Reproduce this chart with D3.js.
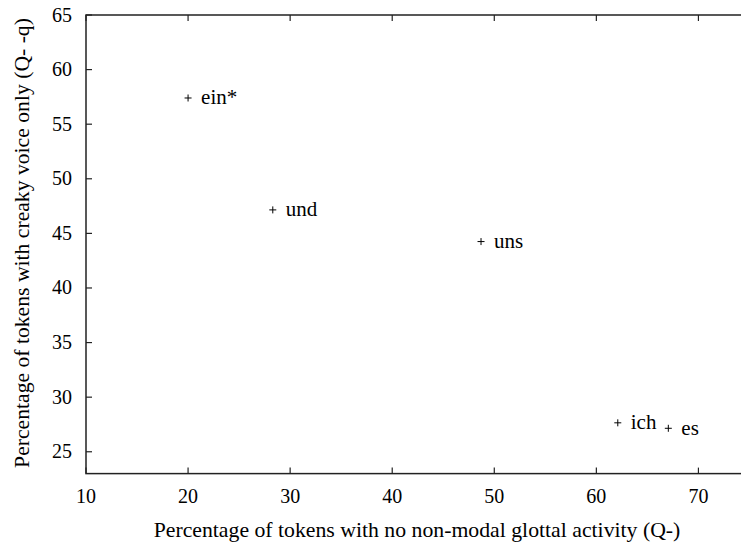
<!DOCTYPE html>
<html>
<head>
<meta charset="utf-8">
<script src="https://cdn.jsdelivr.net/npm/d3@7"></script>
<style>
  html, body { margin: 0; padding: 0; background: #fff; }
  svg { display: block; }
</style>
</head>
<body>
<script>
// Word-level glottalisation: share of tokens with no non-modal activity
// against share of tokens with creaky voice only.
const words = ["ein*", "und", "uns", "ich", "es"];
const noNonModal = [20.0, 28.3, 48.7, 62.1, 67.05];
const creakyOnly = [57.4, 47.15, 44.25, 27.65, 27.15];

const xTicks = [10, 20, 30, 40, 50, 60, 70, 80];
const yTicks = [25, 30, 35, 40, 45, 50, 55, 60, 65];

const xTitle = "Percentage of tokens with no non-modal glottal activity (Q-)";
const yTitle = "Percentage of tokens with creaky voice only (Q- -q)";

const W = 741, H = 544;
const plot = { left: 86, right: 800.5, top: 15, bottom: 473.6 };
const serif = "'Liberation Serif', 'Times New Roman', serif";

const svg = d3.select("body").append("svg")
  .attr("width", W).attr("height", H)
  .attr("font-family", serif);

const x = d3.scaleLinear().domain([10, 80]).range([plot.left, plot.right]);
const y = d3.scaleLinear().domain([23, 65]).range([plot.bottom, plot.top]);

const axisColor = "#222";
const tickLen = 6;

// Frame
svg.append("rect")
  .attr("x", plot.left).attr("y", plot.top)
  .attr("width", plot.right - plot.left).attr("height", plot.bottom - plot.top)
  .attr("fill", "none").attr("stroke", axisColor).attr("stroke-width", 1.5);

// Inward ticks, mirrored on the opposite sides
const g = svg.append("g").attr("stroke", axisColor).attr("stroke-width", 1.2);
xTicks.forEach(v => {
  g.append("line").attr("x1", x(v)).attr("x2", x(v))
    .attr("y1", plot.bottom).attr("y2", plot.bottom - tickLen);
  g.append("line").attr("x1", x(v)).attr("x2", x(v))
    .attr("y1", plot.top).attr("y2", plot.top + tickLen);
});
yTicks.forEach(v => {
  g.append("line").attr("x1", plot.left).attr("x2", plot.left + tickLen)
    .attr("y1", y(v)).attr("y2", y(v));
  g.append("line").attr("x1", plot.right).attr("x2", plot.right - tickLen)
    .attr("y1", y(v)).attr("y2", y(v));
});

// Tick labels (only those that fall inside the page width)
svg.append("g").selectAll("text").data(xTicks.filter(v => x(v) + 12 < W)).join("text")
  .attr("x", d => x(d)).attr("y", plot.bottom + 29.5)
  .attr("text-anchor", "middle").attr("font-size", 20)
  .text(d => d);

svg.append("g").selectAll("text").data(yTicks).join("text")
  .attr("x", plot.left - 14).attr("y", d => y(d) + 6.5)
  .attr("text-anchor", "end").attr("font-size", 20)
  .text(d => d);

// Axis titles, sized so each spans its intended length
function fitText(sel, target) {
  const base = 20;
  sel.attr("font-size", base);
  const len = sel.node().getComputedTextLength();
  if (len > 0) sel.attr("font-size", Math.min(23, Math.max(18, base * target / len)));
}

const xt = svg.append("text")
  .attr("x", 417).attr("y", 537)
  .attr("text-anchor", "middle")
  .text(xTitle);
fitText(xt, 527);

const yt = svg.append("text")
  .attr("transform", "translate(29,243) rotate(-90)")
  .attr("text-anchor", "middle")
  .text(yTitle);
fitText(yt, 450);

// Points as small plus markers with word labels
const pts = words.map((w, i) => ({ w, px: noNonModal[i], py: creakyOnly[i] }));
const m = 3.5;
const marks = svg.append("g");
marks.selectAll("path").data(pts).join("path")
  .attr("d", d => {
    const cx = x(d.px), cy = y(d.py);
    return `M${cx - m},${cy}H${cx + m}M${cx},${cy - m}V${cy + m}`;
  })
  .attr("stroke", "#000").attr("stroke-width", 1).attr("fill", "none");

marks.selectAll("text").data(pts).join("text")
  .attr("x", d => x(d.px) + 13).attr("y", d => y(d.py) + 6.5)
  .attr("font-size", 21)
  .text(d => d.w);
</script>
</body>
</html>
